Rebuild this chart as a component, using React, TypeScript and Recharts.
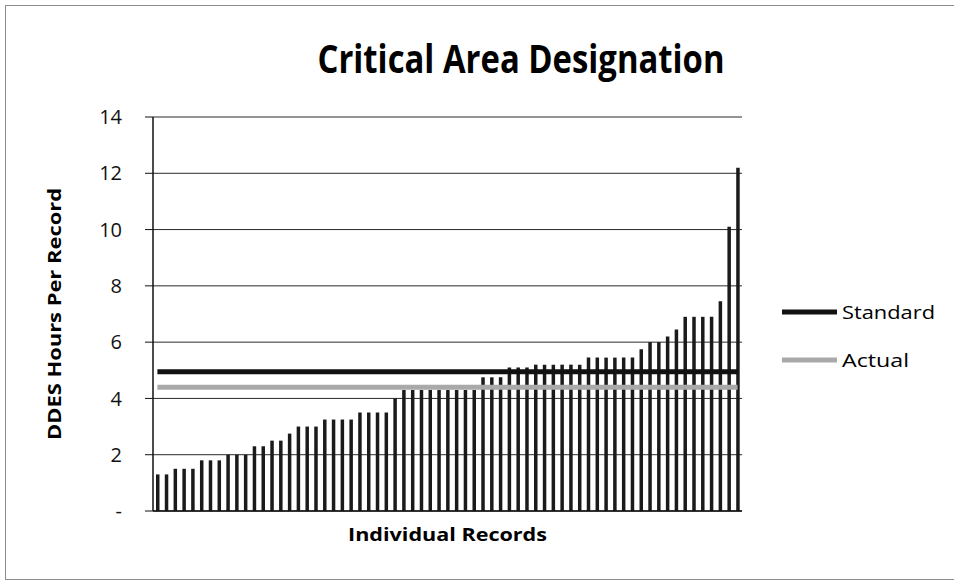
import { ComposedChart, Bar, Line, XAxis, YAxis, CartesianGrid } from "recharts"

// hours per record, sorted ascending
const hoursPerRecord = [
  1.3, 1.3,
  1.5, 1.5, 1.5,
  1.8, 1.8, 1.8,
  2.0, 2.0, 2.0,
  2.3, 2.3,
  2.5, 2.5,
  2.75,
  3.0, 3.0, 3.0,
  3.25, 3.25, 3.25, 3.25,
  3.5, 3.5, 3.5, 3.5,
  4.0,
  4.3, 4.3, 4.3, 4.3, 4.3, 4.3, 4.3, 4.3, 4.3,
  4.75, 4.75, 4.75,
  5.1, 5.1, 5.1,
  5.2, 5.2, 5.2, 5.2, 5.2, 5.2,
  5.45, 5.45, 5.45, 5.45, 5.45, 5.45,
  5.75,
  6.0, 6.0,
  6.2,
  6.45,
  6.9, 6.9, 6.9, 6.9,
  7.45,
  10.1,
  12.2,
]

const STANDARD = 4.95
const ACTUAL = 4.4

const yTicks = [0, 2, 4, 6, 8, 10, 12, 14]

const FONT = "'Open Sans', 'DejaVu Sans', sans-serif"

const data = hoursPerRecord.map((v, i) => ({
  record: i + 1,
  hours: v,
  standard: STANDARD,
  actual: ACTUAL,
}))

export default function App() {
  return (
    <div
      style={{
        position: "absolute",
        left: 0,
        top: 0,
        width: 954,
        height: 581,
        overflow: "hidden",
        background: "#fff",
        fontFamily: FONT,
      }}
    >
      <div
        style={{
          position: "absolute",
          left: 5,
          top: 5,
          width: 980,
          height: 573,
          border: "1px solid #8c8c8c",
        }}
      />
      <div style={{ position: "absolute", left: 0, top: 0 }}>
        <ComposedChart
          width={954}
          height={581}
          data={data}
          margin={{ top: 117, right: 212, bottom: 40, left: 0 }}
        >
          <CartesianGrid vertical={false} stroke="#2a2a2a" strokeWidth={1} />
          <XAxis
            dataKey="record"
            tick={false}
            tickLine={false}
            axisLine={{ stroke: "#111", strokeWidth: 1.5 }}
            height={30}
          />
          <YAxis
            width={153}
            domain={[0, 14]}
            ticks={yTicks}
            interval={0}
            tickSize={8}
            tickMargin={23}
            tickLine={{ stroke: "#111" }}
            axisLine={{ stroke: "#111", strokeWidth: 1.5 }}
            tickFormatter={(v: number) => (v === 0 ? "-" : String(v))}
            tick={{ fontSize: 20, fill: "#111", fontFamily: FONT }}
          />
          <Bar dataKey="hours" fill="#1a1a1a" barSize={3.5} isAnimationActive={false} />
          <Line
            dataKey="standard"
            stroke="#111"
            strokeWidth={5}
            dot={false}
            isAnimationActive={false}
          />
          <Line
            dataKey="actual"
            stroke="#a9a9a9"
            strokeWidth={5}
            dot={false}
            isAnimationActive={false}
          />
        </ComposedChart>
      </div>
      <svg
        width={954}
        height={581}
        style={{ position: "absolute", left: 0, top: 0, pointerEvents: "none" }}
      >
        <text
          x={521}
          y={73}
          textAnchor="middle"
          fontSize={39}
          fontWeight="bold"
          fontFamily={FONT}
          fill="#000"
          textLength={407}
          lengthAdjust="spacingAndGlyphs"
        >
          Critical Area Designation
        </text>
        <text
          transform="translate(61 314) rotate(-90)"
          textAnchor="middle"
          fontSize={18}
          fontWeight="bold"
          fontFamily={FONT}
          fill="#000"
          textLength={252}
          lengthAdjust="spacingAndGlyphs"
        >
          DDES Hours Per Record
        </text>
        <text
          x={447.5}
          y={541}
          textAnchor="middle"
          fontSize={18}
          fontWeight="bold"
          fontFamily={FONT}
          fill="#000"
          textLength={199}
          lengthAdjust="spacingAndGlyphs"
        >
          Individual Records
        </text>
        <line x1={782} x2={837} y1={312} y2={312} stroke="#111" strokeWidth={5} />
        <text
          x={842}
          y={319}
          fontSize={19}
          fontFamily={FONT}
          fill="#000"
          textLength={93}
          lengthAdjust="spacingAndGlyphs"
        >
          Standard
        </text>
        <line x1={782} x2={837} y1={360} y2={360} stroke="#a9a9a9" strokeWidth={5} />
        <text
          x={842}
          y={367}
          fontSize={19}
          fontFamily={FONT}
          fill="#000"
          textLength={67}
          lengthAdjust="spacingAndGlyphs"
        >
          Actual
        </text>
      </svg>
    </div>
  )
}
